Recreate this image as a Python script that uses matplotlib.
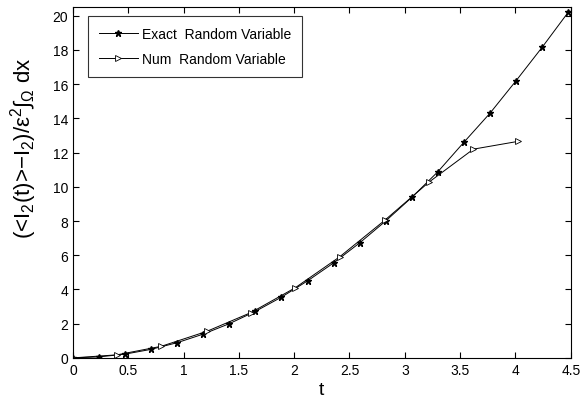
import matplotlib
matplotlib.use('Agg')
import matplotlib.pyplot as plt

plt.rcParams['font.family'] = ['Liberation Sans', 'DejaVu Sans']
plt.rcParams['mathtext.fontset'] = 'custom'
plt.rcParams['mathtext.rm'] = 'Liberation Sans'
plt.rcParams['mathtext.it'] = 'Liberation Sans'

# exact solution samples
t_exact = [0.0, 0.236, 0.471, 0.707, 0.943, 1.178, 1.414, 1.65, 1.885, 2.121,
           2.356, 2.592, 2.827, 3.063, 3.299, 3.534, 3.77, 4.006, 4.241, 4.477]
y_exact = [0.0, 0.06, 0.22, 0.5, 0.89, 1.39, 2.0, 2.72, 3.55, 4.5,
           5.55, 6.72, 8.0, 9.38, 10.88, 12.6, 14.3, 16.2, 18.15, 20.2]

# numerical samples
t_num = [0.0, 0.40, 0.80, 1.21, 1.61, 2.01, 2.41, 2.82, 3.22, 3.62, 4.02]
y_num = [0.0, 0.18, 0.68, 1.55, 2.65, 4.1, 5.9, 8.05, 10.28, 12.2, 12.65]

fig = plt.figure(figsize=(5.83, 4.06), dpi=100)
ax = fig.add_axes([0.125, 0.116, 0.854, 0.864])

ax.plot(t_exact, y_exact, color='black', lw=0.7, marker='*', ms=4.5,
        label='Exact  Random Variable')
ax.plot(t_num, y_num, color='black', lw=0.7, marker='>', ms=5,
        mfc='white', mew=0.6, label='Num  Random Variable')

ax.set_xlim(0, 4.5)
ax.set_ylim(0, 20.5)
ax.set_xticks([0, 0.5, 1, 1.5, 2, 2.5, 3, 3.5, 4, 4.5])
ax.set_xticklabels(['0', '0.5', '1', '1.5', '2', '2.5', '3', '3.5', '4', '4.5'])
ax.set_yticks(range(0, 21, 2))
ax.tick_params(direction='in', top=True, right=True, labelsize=10, length=4, width=0.8)
for s in ax.spines.values():
    s.set_linewidth(0.8)

ax.set_xlabel('t', fontsize=14, labelpad=3)
ax.set_ylabel(r'(<I$_2$(t)>−I$_2$)/ε$^2$∫$_Ω$ dx', fontsize=16)
ax.yaxis.set_label_coords(-0.068, 0.6)

leg = ax.legend(loc='upper left', bbox_to_anchor=(0.03, 0.974), fontsize=10,
                frameon=True, fancybox=False, edgecolor='black',
                handlelength=2.8, handletextpad=0.3, borderpad=0.8,
                labelspacing=0.75, borderaxespad=0)
leg.get_frame().set_linewidth(0.8)

fig.savefig('out.png', dpi=100)
